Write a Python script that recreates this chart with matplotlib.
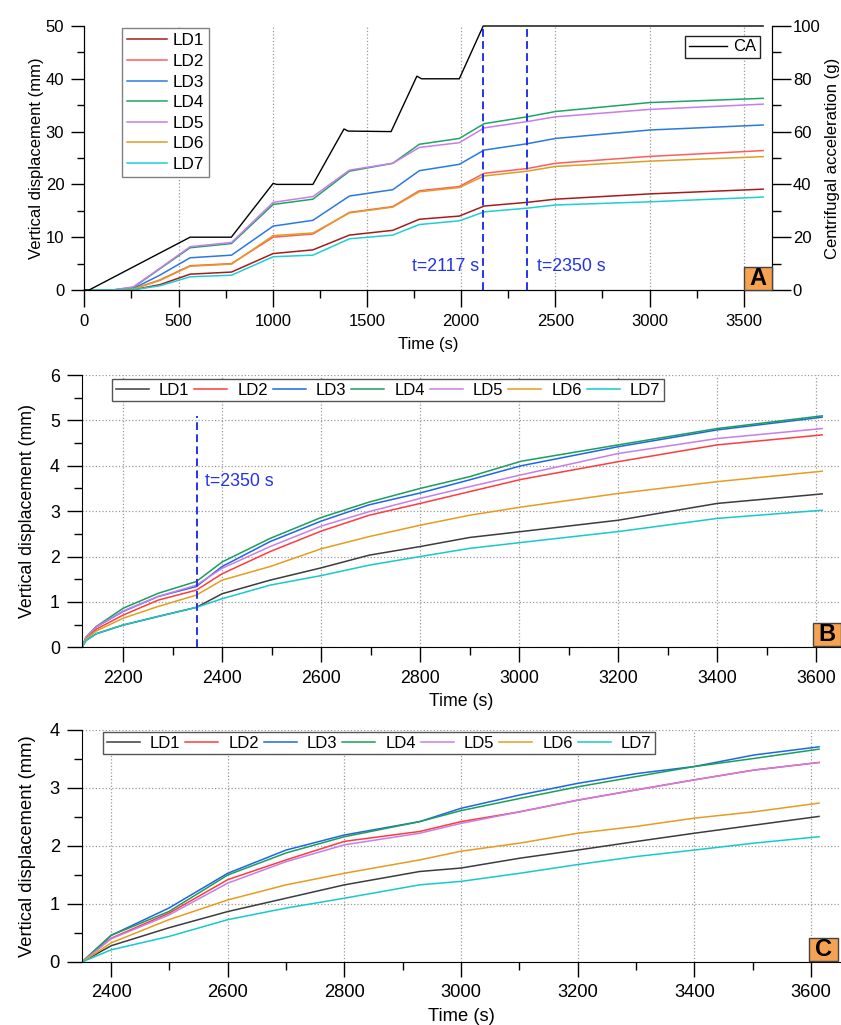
import matplotlib
matplotlib.use('Agg')
import matplotlib.pyplot as plt
from matplotlib.ticker import MultipleLocator
from matplotlib.patches import Rectangle

plt.rcParams['font.family'] = ['Liberation Sans', 'DejaVu Sans']
plt.rcParams['font.size'] = 12

# ---------------- data: panel A (full test) ----------------
t_ca = [0, 25, 561, 780, 1002, 1020, 1213, 1378, 1400, 1628, 1765, 1790, 1990, 2117, 2130, 3603]
ca = [0, 0, 20, 20, 40.4, 40, 40, 61, 60.2, 60, 81, 80, 80, 100, 100, 100]

t_A = [0, 150, 260, 400, 561, 781, 1002, 1213, 1407, 1637, 1778, 1990, 2122, 2350, 2500, 3000, 3603]
A_LD1 = [0, 0, 0.05, 1.0, 3.0, 3.4, 6.9, 7.6, 10.4, 11.3, 13.4, 14.0, 15.9, 16.6, 17.2, 18.2, 19.1]
A_LD2 = [0, 0, 0.2, 1.9, 4.6, 5.0, 10.0, 10.6, 14.7, 15.8, 18.8, 19.6, 22.1, 23.0, 24.0, 25.3, 26.4]
A_LD3 = [0, 0, 0.3, 2.8, 6.1, 6.6, 12.1, 13.2, 17.8, 19.0, 22.6, 23.8, 26.5, 27.7, 28.7, 30.3, 31.25]
A_LD4 = [0, 0, 0.5, 4.0, 8.0, 8.8, 16.2, 17.2, 22.5, 24.0, 27.6, 28.7, 31.5, 32.8, 33.8, 35.5, 36.3]
A_LD5 = [0, 0, 0.6, 4.1, 8.2, 9.0, 16.6, 17.7, 22.7, 24.0, 27.0, 27.9, 30.7, 31.9, 32.8, 34.2, 35.2]
A_LD6 = [0, 0, 0.2, 1.8, 4.5, 4.9, 10.3, 10.8, 14.6, 15.7, 18.6, 19.4, 21.6, 22.5, 23.4, 24.4, 25.25]
A_LD7 = [0, 0, 0.05, 0.8, 2.5, 2.8, 6.3, 6.6, 9.7, 10.4, 12.4, 13.1, 14.8, 15.5, 16.1, 16.7, 17.6]

# ---------------- data: panel B (from t = 2117 s) ----------------
t_B = [2117, 2125, 2146, 2200, 2271, 2348, 2400, 2497, 2600, 2697, 2800, 2900, 3004, 3200, 3400, 3612]
B_LD1 = [0, 0.15, 0.30, 0.49, 0.68, 0.88, 1.18, 1.48, 1.75, 2.03, 2.22, 2.42, 2.55, 2.80, 3.17, 3.38]
B_LD2 = [0, 0.20, 0.40, 0.71, 1.04, 1.26, 1.62, 2.11, 2.56, 2.91, 3.17, 3.43, 3.70, 4.09, 4.46, 4.68]
B_LD3 = [0, 0.22, 0.45, 0.79, 1.12, 1.34, 1.78, 2.33, 2.78, 3.14, 3.40, 3.69, 4.00, 4.42, 4.79, 5.07]
B_LD4 = [0, 0.22, 0.46, 0.86, 1.19, 1.45, 1.88, 2.40, 2.86, 3.20, 3.50, 3.76, 4.10, 4.46, 4.82, 5.10]
B_LD5 = [0, 0.22, 0.45, 0.80, 1.12, 1.37, 1.74, 2.22, 2.67, 2.99, 3.28, 3.54, 3.80, 4.27, 4.60, 4.82]
B_LD6 = [0, 0.18, 0.36, 0.64, 0.90, 1.15, 1.48, 1.78, 2.17, 2.44, 2.69, 2.91, 3.09, 3.39, 3.65, 3.88]
B_LD7 = [0, 0.15, 0.30, 0.49, 0.68, 0.88, 1.07, 1.37, 1.58, 1.81, 2.00, 2.18, 2.31, 2.55, 2.84, 3.02]

# ---------------- data: panel C (from t = 2350 s) ----------------
t_C = [2350, 2400, 2499, 2600, 2700, 2800, 2929, 3000, 3101, 3200, 3302, 3400, 3503, 3614]
C_LD1 = [0, 0.28, 0.59, 0.87, 1.10, 1.33, 1.56, 1.62, 1.79, 1.93, 2.08, 2.22, 2.36, 2.51]
C_LD2 = [0, 0.41, 0.84, 1.42, 1.76, 2.08, 2.25, 2.42, 2.59, 2.79, 2.97, 3.14, 3.31, 3.44]
C_LD3 = [0, 0.46, 0.93, 1.53, 1.93, 2.19, 2.42, 2.65, 2.88, 3.08, 3.25, 3.37, 3.57, 3.71]
C_LD4 = [0, 0.46, 0.87, 1.50, 1.88, 2.16, 2.42, 2.61, 2.82, 3.02, 3.20, 3.37, 3.51, 3.67]
C_LD5 = [0, 0.40, 0.81, 1.36, 1.73, 2.02, 2.22, 2.39, 2.59, 2.79, 2.97, 3.14, 3.31, 3.44]
C_LD6 = [0, 0.33, 0.73, 1.07, 1.33, 1.53, 1.76, 1.91, 2.05, 2.22, 2.34, 2.48, 2.59, 2.74]
C_LD7 = [0, 0.21, 0.44, 0.73, 0.93, 1.10, 1.33, 1.39, 1.53, 1.68, 1.82, 1.93, 2.05, 2.16]

labels = ['LD1', 'LD2', 'LD3', 'LD4', 'LD5', 'LD6', 'LD7']
colors_A = ['#a61c1c', '#ff5c5c', '#2a78e4', '#1fa463', '#c87ced', '#e39b24', '#1ccfd4']
colors_BC = ['#3c3c3c', '#ff3b3b', '#1f66e5', '#1a9e5a', '#c77ee8', '#e69c1e', '#19c8cc']

W, H = 841, 1025
fig = plt.figure(figsize=(W / 100, H / 100), dpi=100)


def px_axes(l, r, t, b):
    return fig.add_axes([l / W, 1 - b / H, (r - l) / W, (b - t) / H])


def letter_box(s, x0, x1, y0, y1):
    fig.add_artist(Rectangle((x0 / W, 1 - y1 / H), (x1 - x0) / W, (y1 - y0) / H,
                             transform=fig.transFigure, facecolor='#f5a352',
                             edgecolor='#444444', lw=1.0, zorder=5))
    fig.text((x0 + x1) / 2 / W, 1 - (y0 + y1) / 2 / H, s, ha='center', va='center',
             fontsize=17, fontweight='bold', color='black', zorder=6)


grid_kw = dict(ls=':', color='#9a9a9a', lw=0.9)
blue = '#2233ee'

# ======================= Panel A =======================
axA = px_axes(84.4, 772, 26, 290)
axA2 = axA.twinx()
A_series = [A_LD1, A_LD2, A_LD3, A_LD4, A_LD5, A_LD6, A_LD7]
hA = []
for y, c, lab in zip(A_series, colors_A, labels):
    h, = axA.plot(t_A, y, color=c, lw=1.1, label=lab)
    hA.append(h)
axA.set_xlim(0, 3650)
axA.set_ylim(0, 50)
axA2.set_ylim(0, 100)
axA.xaxis.set_major_locator(MultipleLocator(500))
axA.xaxis.set_minor_locator(MultipleLocator(250))
axA.yaxis.set_major_locator(MultipleLocator(10))
axA.yaxis.set_minor_locator(MultipleLocator(5))
axA2.yaxis.set_major_locator(MultipleLocator(20))
axA2.yaxis.set_minor_locator(MultipleLocator(10))
axA.grid(axis='x', which='major', **grid_kw)
for xv in (2117, 2350):
    axA.axvline(xv, color=blue, lw=1.4, dashes=(4, 2.2), zorder=3)
axA.text(2095, 4.4, 't=2117 s', color=blue, ha='right', va='center', fontsize=12.8)
axA.text(2400, 4.4, 't=2350 s', color=blue, ha='left', va='center', fontsize=12.8)
hca, = axA2.plot(t_ca, ca, color='black', lw=1.0, clip_on=False, label='CA')
for sp in ('top',):
    axA.spines[sp].set_visible(False)
    axA2.spines[sp].set_visible(False)
axA.tick_params(axis='x', which='major', direction='out', length=12, width=1, pad=5, labelsize=12)
axA.tick_params(axis='x', which='minor', direction='out', length=6, width=1)
axA.tick_params(axis='y', which='major', direction='out', length=9.5, width=1, pad=5, labelsize=12)
axA.tick_params(axis='y', which='minor', direction='out', length=5, width=1)
axA2.tick_params(axis='y', which='major', direction='out', length=13.5, width=1, pad=1.5, labelsize=12)
axA2.tick_params(axis='y', which='minor', direction='out', length=6.5, width=1)
axA.set_xlabel('Time (s)', fontsize=12, labelpad=6)
axA.set_ylabel('Vertical displacement (mm)', fontsize=12, labelpad=1)
axA2.set_ylabel('Centrifugal acceleration (g)', fontsize=12, labelpad=3)
legA = axA.legend(handles=hA, loc='upper left', bbox_to_anchor=(0.0547, 0.992), borderaxespad=0,
                  frameon=True, fancybox=False, edgecolor='#808080', framealpha=1,
                  handlelength=2.35, handletextpad=0.3, labelspacing=0.33, borderpad=0.3, fontsize=12.3)
legA.get_frame().set_linewidth(1.0)
legCA = axA2.legend(handles=[hca], loc='upper right', bbox_to_anchor=(0.9825, 0.962), borderaxespad=0,
                    frameon=True, fancybox=False, edgecolor='#222222', framealpha=1,
                    handlelength=2.3, handletextpad=0.4, borderpad=0.2, fontsize=12)
legCA.get_frame().set_linewidth(1.0)
letter_box('A', 744, 772, 267, 290)

# ======================= Panel B & C =======================
def style_bc(ax, xlim, ylim, fs):
    ax.set_xlim(*xlim)
    ax.set_ylim(*ylim)
    ax.xaxis.set_major_locator(MultipleLocator(200))
    ax.xaxis.set_minor_locator(MultipleLocator(100))
    ax.yaxis.set_major_locator(MultipleLocator(1))
    ax.yaxis.set_minor_locator(MultipleLocator(0.5))
    ax.grid(which='major', **grid_kw)
    ax.set_axisbelow(True)
    ax.spines['top'].set_visible(False)
    ax.spines['right'].set_visible(False)
    ax.tick_params(which='major', direction='out', length=11, width=1, pad=5, labelsize=fs)
    ax.tick_params(which='minor', direction='out', length=5.5, width=1)
    ax.set_xlabel('Time (s)', fontsize=fs, labelpad=5)
    ax.set_ylabel('Vertical displacement (mm)', fontsize=fs, labelpad=10)


def legend_bc(ax, handles, x0, ytop):
    leg = ax.legend(handles=handles, ncol=7, loc='upper left', bbox_to_anchor=(x0, ytop),
                    borderaxespad=0, frameon=True, fancybox=False, edgecolor='#555555',
                    framealpha=1, handlelength=1.98, handletextpad=0.6, columnspacing=0.3,
                    borderpad=0.22, fontsize=12)
    leg.get_frame().set_linewidth(1.0)


axB = px_axes(82, 841, 375, 647.3)
B_series = [B_LD1, B_LD2, B_LD3, B_LD4, B_LD5, B_LD6, B_LD7]
hB = []
for y, c, lab in zip(B_series, colors_BC, labels):
    h, = axB.plot(t_B, y, color=c, lw=1.1, label=lab)
    hB.append(h)
style_bc(axB, (2117, 3650), (0, 6), 12.8)
axB.plot([2350, 2350], [0, 5.1], color=blue, lw=1.4, dashes=(4, 2.2), zorder=3)
axB.text(2365, 3.65, 't=2350 s', color=blue, ha='left', va='center', fontsize=12.8)
legend_bc(axB, hB, 0.0395, 0.985)
letter_box('B', 812.7, 841, 622.7, 645.5)

axC = px_axes(82, 840, 730, 962)
C_series = [C_LD1, C_LD2, C_LD3, C_LD4, C_LD5, C_LD6, C_LD7]
hC = []
for y, c, lab in zip(C_series, colors_BC, labels):
    h, = axC.plot(t_C, y, color=c, lw=1.1, label=lab)
    hC.append(h)
style_bc(axC, (2350, 3650), (0, 4), 13.2)
legend_bc(axC, hC, 0.0277, 0.991)
letter_box('C', 809, 838, 938, 961)

fig.savefig('out.png', dpi=100)
